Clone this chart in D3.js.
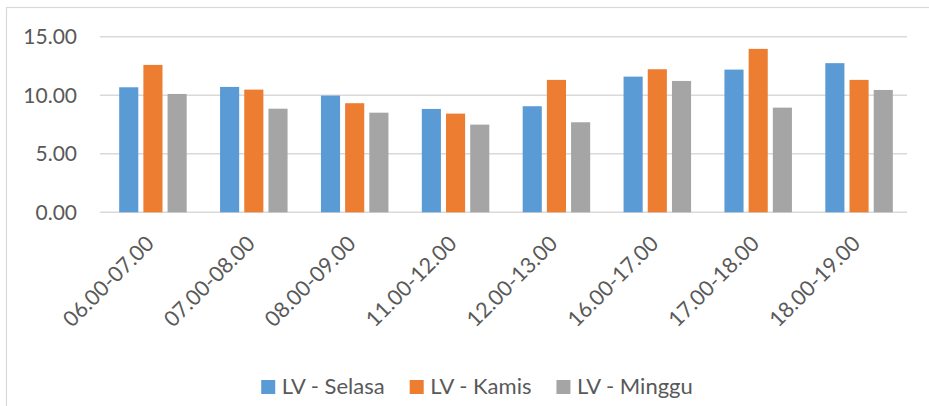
<!DOCTYPE html>
<html>
<head>
<meta charset="utf-8">
<script src="https://cdn.jsdelivr.net/npm/d3@7"></script>
<style>
  body { margin: 0; background: #fff; }
  text { font-family: Lato, "Open Sans", sans-serif; fill: #595959; }
</style>
</head>
<body>
<div id="chart"></div>
<script>
// data
let categories = ["06.00-07.00", "07.00-08.00", "08.00-09.00", "11.00-12.00", "12.00-13.00", "16.00-17.00", "17.00-18.00", "18.00-19.00"]
let seriesNames = ["LV - Selasa", "LV - Kamis", "LV - Minggu"]
let selasa = [10.68, 10.71, 9.97, 8.83, 9.06, 11.59, 12.19, 12.74]
let kamis = [12.59, 10.48, 9.32, 8.43, 11.31, 12.22, 13.96, 11.31]
let minggu = [10.11, 8.85, 8.51, 7.49, 7.69, 11.22, 8.94, 10.45]
let yTicks = [0, 5, 10, 15]
let colors = ["#5B9BD5", "#ED7D31", "#A5A5A5"]

let seriesValues = [selasa, kamis, minggu]

let width = 929, height = 406
let plot = { left: 100, right: 907, top: 36.7, bottom: 212.3 }

let svg = d3.select("#chart").append("svg")
    .attr("width", width)
    .attr("height", height)

// chart border
svg.append("rect")
    .attr("x", 6.5).attr("y", 7.5)
    .attr("width", 960).attr("height", 440)
    .attr("fill", "none")
    .attr("stroke", "#d9d9d9")
    .attr("stroke-width", 1.2)

let x = d3.scaleBand()
    .domain(categories)
    .range([plot.left, plot.right])

let x1 = d3.scaleBand()
    .domain(seriesNames)
    .range([0, 67.5])
    .paddingInner(0.21)

let y = d3.scaleLinear()
    .domain([0, 15])
    .range([plot.bottom, plot.top])

// gridlines
svg.selectAll(".grid")
    .data(yTicks)
    .enter()
    .append("line")
    .attr("class", "grid")
    .attr("x1", plot.left)
    .attr("x2", plot.right)
    .attr("y1", d => y(d))
    .attr("y2", d => y(d))
    .attr("stroke", "#d9d9d9")
    .attr("stroke-width", 1.5)

// y labels
svg.selectAll(".ylab")
    .data(yTicks)
    .enter()
    .append("text")
    .attr("class", "ylab")
    .attr("x", 77)
    .attr("y", d => y(d))
    .attr("dy", "0.36em")
    .attr("text-anchor", "end")
    .style("font-size", "21px")
    .text(d => d.toFixed(2))

// bars
let groups = svg.selectAll(".grp")
    .data(categories)
    .enter()
    .append("g")
    .attr("class", "grp")
    .attr("transform", (d) => "translate(" + (x(d) + x.bandwidth() / 2 - 67.5 / 2 + 2.5) + ",0)")

groups.selectAll("rect")
    .data((d, i) => seriesNames.map((s, k) => ({ s: s, k: k, v: seriesValues[k][i] })))
    .enter()
    .append("rect")
    .attr("x", d => x1(d.s))
    .attr("y", d => y(d.v))
    .attr("width", x1.bandwidth())
    .attr("height", d => y(0) - y(d.v))
    .attr("fill", d => colors[d.k])

// x labels
svg.selectAll(".xlab")
    .data(categories)
    .enter()
    .append("text")
    .attr("class", "xlab")
    .attr("text-anchor", "end")
    .style("font-size", "21.5px")
    .attr("transform", d => "translate(" + (x(d) + x.bandwidth() / 2 + 5) + ",245) rotate(-45)")
    .text(d => d)

// legend
let legend = svg.append("g")
let lx = 0
seriesNames.forEach((s, k) => {
    let g = legend.append("g")
    g.append("rect")
        .attr("x", 0).attr("y", 380)
        .attr("width", 14).attr("height", 14)
        .attr("fill", colors[k])
    let t = g.append("text")
        .attr("x", 20.5)
        .attr("y", 394)
        .style("font-size", "22px")
        .text(s)
    let w = 20.5 + t.node().getComputedTextLength()
    g.attr("transform", "translate(" + lx + ",0)")
    lx += w + 25
})
let totalW = lx - 25
legend.attr("transform", "translate(" + (477 - totalW / 2) + ",0)")
</script>
</body>
</html>
